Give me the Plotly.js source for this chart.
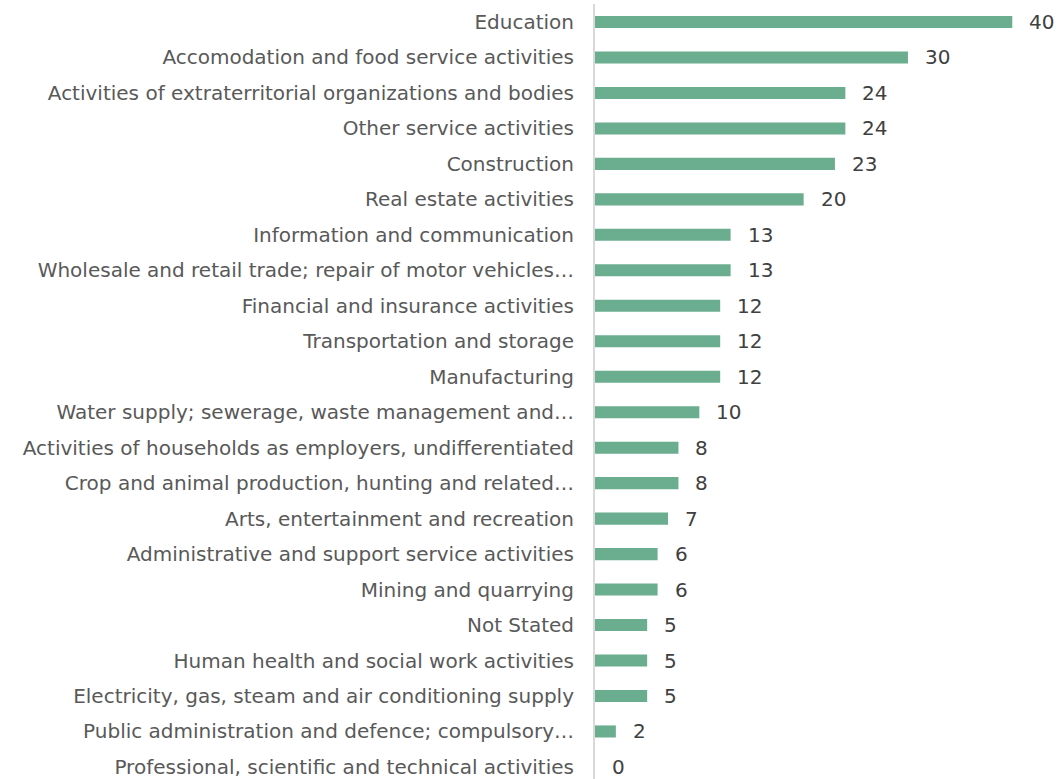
<!DOCTYPE html>
<html>
<head>
<meta charset="utf-8">
<script src="https://cdn.plot.ly/plotly-3.0.1.min.js"></script>
<style>html,body{margin:0;padding:0;background:#fff;}#chart{width:1058px;height:779px;}</style>
</head>
<body>
<div id="chart"></div>
<script>
const categories = [
  "Education",
  "Accomodation and food service activities",
  "Activities of extraterritorial organizations and bodies",
  "Other service activities",
  "Construction",
  "Real estate activities",
  "Information and communication",
  "Wholesale and retail trade; repair of motor vehicles…",
  "Financial and insurance activities",
  "Transportation and storage",
  "Manufacturing",
  "Water supply; sewerage, waste management and…",
  "Activities of households as employers, undifferentiated",
  "Crop and animal production, hunting and related…",
  "Arts, entertainment and recreation",
  "Administrative and support service activities",
  "Mining and quarrying",
  "Not Stated",
  "Human health and social work activities",
  "Electricity, gas, steam and air conditioning supply",
  "Public administration and defence; compulsory…",
  "Professional, scientific and technical activities"
];
const values = [40, 30, 24, 24, 23, 20, 13, 13, 12, 12, 12, 10, 8, 8, 7, 6, 6, 5, 5, 5, 2, 0];

const trace = {
  type: 'bar',
  orientation: 'h',
  x: values,
  y: categories,
  marker: {color: '#6AAD8F'},
  hoverinfo: 'skip'
};

const annotations = values.map((v, i) => ({
  x: v, y: categories[i], xref: 'x', yref: 'y',
  text: String(v), showarrow: false,
  xanchor: 'left', yanchor: 'middle', xshift: 15, yshift: 0,
  font: {family: 'DejaVu Sans', size: 20, color: '#404040'}
}));

const layout = {
  width: 1058, height: 779,
  margin: {l: 595, r: 4, t: 4, b: 0, pad: 0},
  paper_bgcolor: '#ffffff', plot_bgcolor: '#ffffff',
  showlegend: false,
  bargap: 0.66,
  xaxis: {range: [0, 44], visible: false, showgrid: false, zeroline: false},
  yaxis: {
    type: 'category',
    range: [21.34, -0.507],
    showline: true, linecolor: '#d9d9d9', linewidth: 2,
    showgrid: false, zeroline: false, ticks: '',
    ticklabelstandoff: 15,
    tickfont: {family: 'DejaVu Sans', size: 20, color: '#595959'}
  },
  annotations: annotations
};

Plotly.newPlot('chart', [trace], layout, {staticPlot: true, displayModeBar: false});
</script>
</body>
</html>
